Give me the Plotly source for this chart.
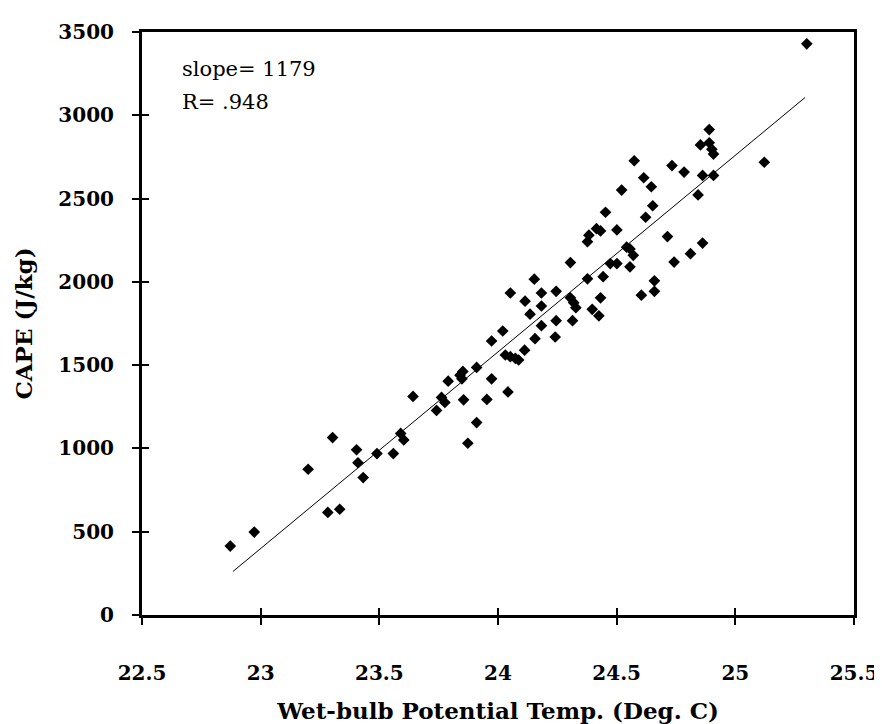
import plotly.graph_objects as go

# wet-bulb potential temperature (deg C) and CAPE (J/kg)
theta_w = [
    22.872, 22.973, 23.200, 23.303, 23.283, 23.333, 23.404, 23.410, 23.432,
    23.490, 23.559, 23.590, 23.603, 23.642, 23.741, 23.762, 23.776, 23.790,
    23.840, 23.852, 23.848, 23.855, 23.873, 23.910, 23.910, 23.953, 23.973,
    23.973, 24.020, 24.031, 24.052, 24.073, 24.087, 24.042, 24.052, 24.114,
    24.112, 24.156, 24.135, 24.153, 24.183, 24.183, 24.183, 24.245, 24.245,
    24.241, 24.314, 24.305, 24.319, 24.328, 24.305, 24.377, 24.443, 24.432,
    24.397, 24.425, 24.453, 24.415, 24.432, 24.383, 24.377, 24.501, 24.473,
    24.501, 24.521, 24.542, 24.556, 24.570, 24.556, 24.614, 24.646, 24.652,
    24.622, 24.574, 24.659, 24.659, 24.604, 24.733, 24.784, 24.714, 24.742,
    24.811, 24.862, 24.843, 24.862, 24.908, 24.890, 24.853, 24.890, 24.901,
    24.908, 25.122, 25.301,
]
cape = [
    414, 498, 875, 1065, 616, 635, 992, 914, 825,
    969, 969, 1090, 1051, 1312, 1228, 1306, 1276, 1404,
    1440, 1462, 1418, 1292, 1031, 1486, 1155, 1294, 1418,
    1645, 1705, 1561, 1551, 1541, 1531, 1339, 1933, 1884,
    1590, 1659, 1806, 2016, 1933, 1855, 1737, 1943, 1767,
    1669, 1767, 1904, 1875, 1845, 2116, 2018, 2031, 1904,
    1835, 1796, 2418, 2319, 2306, 2280, 2241, 2312, 2110,
    2110, 2551, 2208, 2198, 2159, 2090, 2625, 2571, 2457,
    2388, 2727, 2006, 1943, 1920, 2698, 2659, 2272, 2119,
    2169, 2233, 2522, 2639, 2639, 2914, 2822, 2835, 2796,
    2767, 2718, 3429,
]

# regression line end points
fit_x = [22.883, 25.294]
fit_y = [261, 3107]

x_ticks = [22.5, 23, 23.5, 24, 24.5, 25, 25.5]
y_ticks = [0, 500, 1000, 1500, 2000, 2500, 3000, 3500]

FONT = "DejaVu Serif"


def base_axis(ticks, rng):
    return dict(
        range=rng, tickvals=ticks, showgrid=False, zeroline=False,
        showline=True, linecolor="black", linewidth=3,
        ticks="outside", ticklen=7, tickwidth=2, tickcolor="black",
    )


def main():
    fig = go.Figure()
    fig.add_trace(go.Scatter(
        x=theta_w, y=cape, mode="markers",
        marker=dict(symbol="diamond", size=9, color="black"),
        showlegend=False,
    ))
    fig.add_trace(go.Scatter(
        x=fit_x, y=fit_y, mode="lines",
        line=dict(color="black", width=1), showlegend=False,
    ))
    # empty trace so the overlay axes (inner half of the crossing ticks) are drawn
    fig.add_trace(go.Scatter(x=[None], y=[None], xaxis="x2", yaxis="y2",
                             showlegend=False, hoverinfo="skip"))

    tick_font = dict(family=FONT, size=20, color="black", weight="bold")
    xa = base_axis(x_ticks, [22.5, 25.5])
    xa.update(mirror=True, ticklabelstandoff=31, tickfont=tick_font,
              ticklabeloverflow="allow",
              title=dict(text="<b>Wet-bulb Potential Temp. (Deg. C)</b>",
                         font=dict(family=FONT, size=23, color="black"),
                         standoff=19))
    ya = base_axis(y_ticks, [0, 3500])
    ya.update(mirror=True, ticklabelstandoff=14, tickfont=tick_font,
              title=dict(text="<b>CAPE (J/kg)</b>",
                         font=dict(family=FONT, size=23, color="black"),
                         standoff=20))
    xa2 = base_axis(x_ticks, [22.5, 25.5])
    xa2.update(overlaying="x", anchor="y2", side="bottom", ticks="inside",
               showticklabels=False, showline=False)
    ya2 = base_axis(y_ticks, [0, 3500])
    ya2.update(overlaying="y", anchor="x2", side="left", ticks="inside",
               showticklabels=False, showline=False)

    for txt, yv in (("slope= 1179", 3276), ("R= .948", 3082)):
        fig.add_annotation(x=22.66, y=yv, xref="x", yref="y", text=txt,
                           showarrow=False, xanchor="left", yanchor="middle",
                           font=dict(family=FONT, size=21, color="black"))

    fig.update_layout(
        width=882, height=724,
        margin=dict(l=134, r=24, t=22, b=107),
        plot_bgcolor="white", paper_bgcolor="white",
        xaxis=xa, yaxis=ya, xaxis2=xa2, yaxis2=ya2,
    )
    fig.write_html("out.html")


if __name__ == "__main__":
    main()
